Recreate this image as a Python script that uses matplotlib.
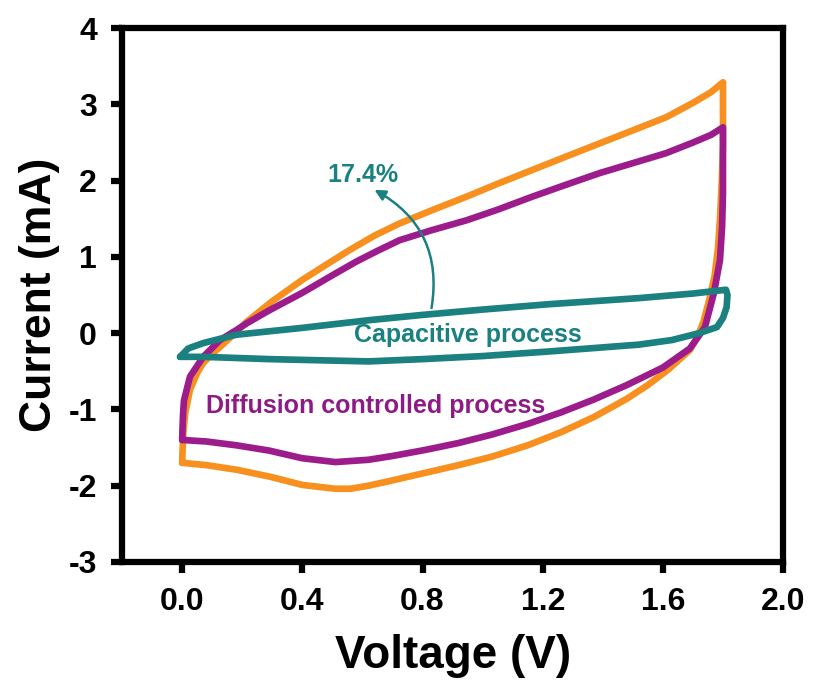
import matplotlib
matplotlib.use("Agg")
import matplotlib.pyplot as plt

plt.rcParams['font.family'] = ['Liberation Sans', 'DejaVu Sans']
plt.rcParams['font.weight'] = 'bold'
plt.rcParams['axes.unicode_minus'] = False

# CV loops (V, mA); forward scan then reverse scan
orange_v = [0.0, 0.001, 0.004, 0.01, 0.026, 0.05, 0.07, 0.1, 0.126, 0.17, 0.215, 0.3, 0.4, 0.48, 0.557,
            0.64, 0.724, 0.83, 0.946, 1.05, 1.165, 1.28, 1.39, 1.5, 1.61, 1.7, 1.76, 1.8,
            1.8, 1.8, 1.8, 1.798, 1.795, 1.79, 1.783, 1.772, 1.755, 1.735, 1.715, 1.69, 1.62, 1.55,
            1.48, 1.37, 1.26, 1.15, 1.03, 0.92, 0.81, 0.7, 0.62, 0.56, 0.51, 0.4, 0.29, 0.18, 0.08, 0.0]
orange_i = [-1.7, -1.55, -1.3, -1.05, -0.74, -0.52, -0.39, -0.27, -0.18, -0.02, 0.15, 0.42, 0.7, 0.9, 1.09,
            1.28, 1.44, 1.61, 1.79, 1.96, 2.14, 2.32, 2.49, 2.66, 2.83, 3.02, 3.16, 3.29,
            3.13, 2.85, 2.47, 2.2, 1.9, 1.5, 1.1, 0.75, 0.45, 0.15, -0.05, -0.22, -0.47, -0.68,
            -0.86, -1.1, -1.3, -1.47, -1.62, -1.73, -1.83, -1.93, -2.0, -2.04, -2.04, -1.99, -1.88, -1.79, -1.73, -1.7]

purple_v = [0.0, 0.001, 0.003, 0.006, 0.026, 0.07, 0.126, 0.18, 0.215, 0.29, 0.4, 0.5, 0.58, 0.65, 0.724,
            0.83, 0.946, 1.05, 1.165, 1.28, 1.39, 1.5, 1.61, 1.7, 1.76, 1.8,
            1.8, 1.8, 1.8, 1.8, 1.8, 1.8, 1.8, 1.797, 1.79, 1.77, 1.74, 1.69, 1.6, 1.48,
            1.37, 1.26, 1.15, 1.03, 0.92, 0.81, 0.7, 0.62, 0.51, 0.4, 0.29, 0.18, 0.08, 0.0]
purple_i = [-1.4, -1.25, -1.05, -0.88, -0.57, -0.31, -0.09, 0.04, 0.13, 0.3, 0.53, 0.76, 0.94, 1.08, 1.22,
            1.35, 1.48, 1.62, 1.79, 1.95, 2.1, 2.23, 2.36, 2.5, 2.6, 2.7,
            2.58, 2.47, 2.34, 2.18, 2.05, 1.92, 1.84, 1.39, 0.96, 0.53, 0.08, -0.2, -0.45, -0.68,
            -0.87, -1.04, -1.19, -1.33, -1.44, -1.53, -1.61, -1.66, -1.69, -1.64, -1.54, -1.47, -1.42, -1.4]

teal_v = [-0.007, 0.02, 0.07, 0.18, 0.4, 0.62, 0.8, 1.0, 1.22, 1.52, 1.7, 1.81,
          1.815, 1.812, 1.8, 1.78, 1.72, 1.63, 1.52, 1.22, 1.0, 0.8, 0.62, 0.29, 0.07, 0.0, -0.007]
teal_i = [-0.31, -0.2, -0.13, -0.02, 0.07, 0.17, 0.24, 0.31, 0.38, 0.46, 0.52, 0.57,
          0.5, 0.34, 0.2, 0.08, 0.0, -0.09, -0.15, -0.24, -0.3, -0.34, -0.37, -0.34, -0.31, -0.31, -0.31]

x_ticks = [0.0, 0.4, 0.8, 1.2, 1.6, 2.0]
y_ticks = [-3, -2, -1, 0, 1, 2, 3, 4]

c_orange = '#F7901E'
c_purple = '#9C1C8C'
c_teal = '#1A8080'

fig = plt.figure(figsize=(8.14, 6.87), dpi=100)
ax = fig.add_axes([0.150, 0.182, 0.812, 0.777])

ax.plot(orange_v, orange_i, color=c_orange, lw=4.8, solid_joinstyle='round', solid_capstyle='round')
ax.plot(purple_v, purple_i, color=c_purple, lw=4.8, solid_joinstyle='round', solid_capstyle='round')
ax.plot(teal_v, teal_i, color=c_teal, lw=4.8, solid_joinstyle='round', solid_capstyle='round')

ax.text(0.95, -0.02, 'Capacitive process', color=c_teal, fontsize=18, fontweight='bold',
        ha='center', va='center')
ax.text(0.08, -0.95, 'Diffusion controlled process', color='#8E1A86', fontsize=18, fontweight='bold',
        ha='left', va='center')
ax.text(0.60, 2.07, '17.4%', color=c_teal, fontsize=18, fontweight='bold', ha='center', va='center')
ax.annotate('', xy=(0.64, 1.88), xytext=(0.83, 0.33),
            arrowprops=dict(arrowstyle='-|>', color=c_teal, lw=1.8, mutation_scale=16,
                            connectionstyle='arc3,rad=0.35', shrinkA=0, shrinkB=0))

ax.set_xlim(-0.2, 2.0)
ax.set_ylim(-3, 4)
ax.set_xticks(x_ticks)
ax.set_yticks(y_ticks)
ax.set_xticklabels(['%.1f' % v for v in x_ticks])
ax.tick_params(direction='out', length=8, width=4.5, labelsize=23, pad=10)
for lab in ax.get_xticklabels() + ax.get_yticklabels():
    lab.set_fontweight('bold')
for s in ax.spines.values():
    s.set_linewidth(4.5)

ax.set_xlabel('Voltage (V)', fontsize=33, fontweight='bold', labelpad=12)
ax.set_ylabel('Current (mA)', fontsize=32, fontweight='bold', labelpad=6)

fig.savefig('out.png', dpi=100)
